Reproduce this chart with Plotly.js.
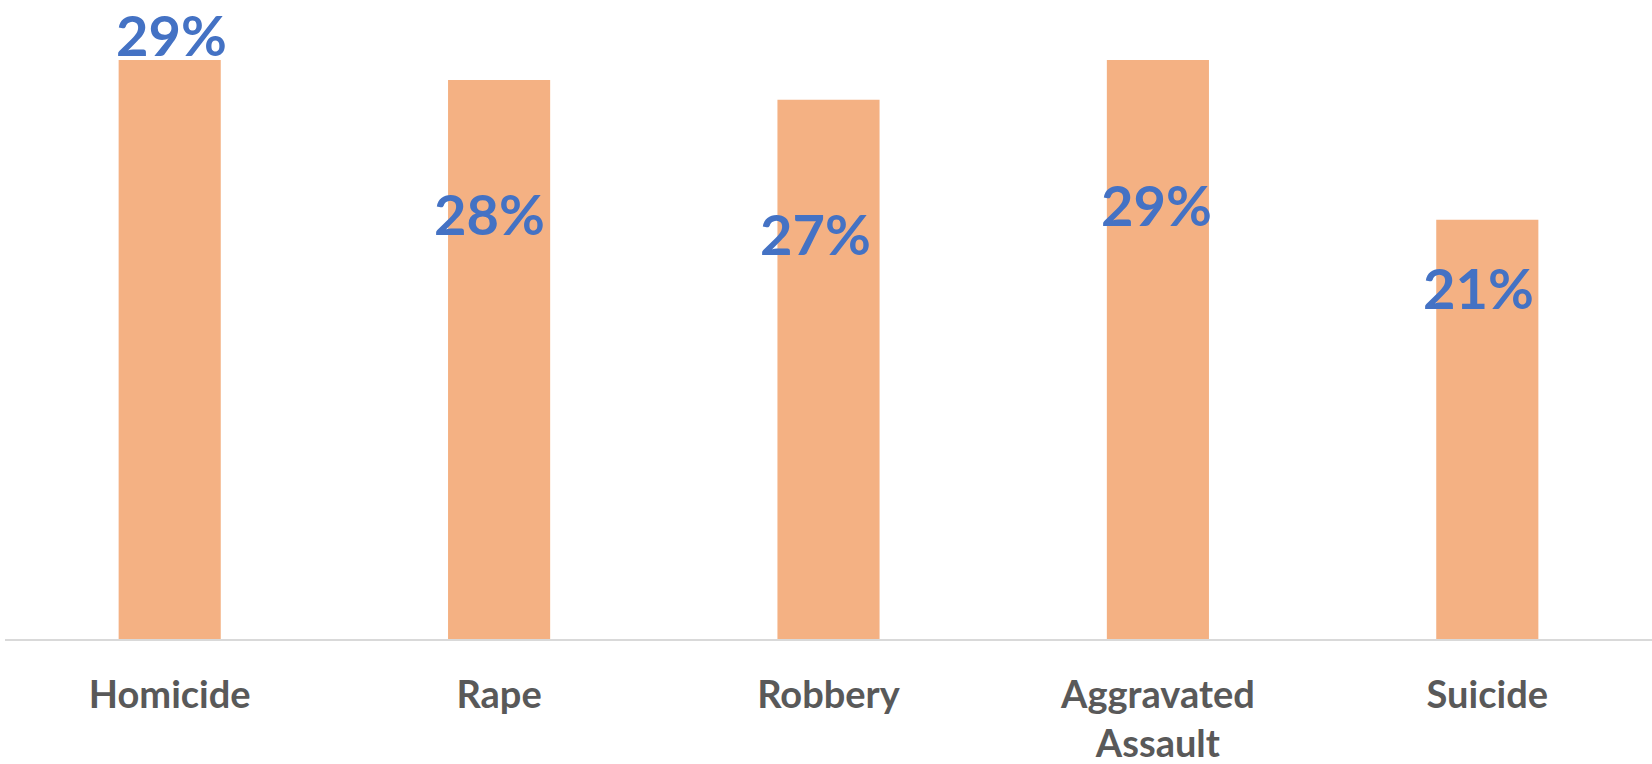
<!DOCTYPE html>
<html>
<head>
<meta charset="utf-8">
<script src="https://cdn.plot.ly/plotly-3.0.1.min.js"></script>
<style>html,body{margin:0;padding:0;background:#fff;}#chart{width:1652px;height:764px;}</style>
</head>
<body>
<div id="chart"></div>
<script>
const categories = ["Homicide", "Rape", "Robbery", "Aggravated<br>Assault", "Suicide"];
const values = [29, 28, 27, 29, 21];
const labels = ["29%", "28%", "27%", "29%", "21%"];
// label offsets (pixels) relative to bar top, as placed in the original chart
const labelDx = [2, -10, -13, -1, -9];
const labelDy = [25, -134, -134, -145, -68];

const trace = {
  type: "bar",
  x: categories,
  y: values,
  marker: {color: "#F4B183"},
  hoverinfo: "skip"
};

const annotations = categories.map((c, i) => ({
  x: c, y: values[i], xref: "x", yref: "y",
  text: labels[i], showarrow: false,
  xanchor: "center", yanchor: "middle",
  xshift: labelDx[i], yshift: labelDy[i],
  font: {family: "Lato, 'Open Sans', sans-serif", size: 56, color: "#4472C4", weight: "bold"}
}));

const layout = {
  width: 1652, height: 764,
  margin: {l: 5, r: 0, t: 0, b: 125},
  paper_bgcolor: "#fff", plot_bgcolor: "#fff",
  bargap: 0.69,
  showlegend: false,
  xaxis: {
    type: "category",
    showline: true, linecolor: "#D9D9D9", linewidth: 2,
    showgrid: false, zeroline: false, ticks: "",
    ticklabelstandoff: 21,
    tickfont: {family: "Lato, 'Open Sans', sans-serif", size: 38, color: "#595959", weight: "bold"}
  },
  yaxis: {
    range: [0, 32], visible: false, showgrid: false, zeroline: false, fixedrange: true
  },
  annotations: annotations
};

Plotly.newPlot("chart", [trace], layout, {displayModeBar: false, staticPlot: true});
</script>
</body>
</html>
